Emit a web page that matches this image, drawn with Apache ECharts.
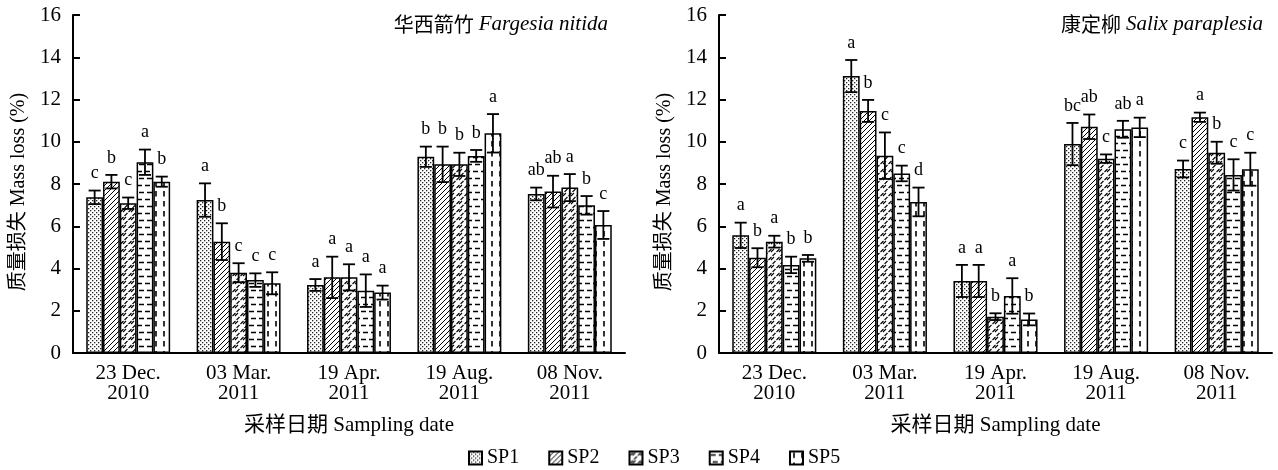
<!DOCTYPE html>
<html>
<head>
<meta charset="utf-8">
<script src="https://cdn.jsdelivr.net/npm/echarts@6/dist/echarts.min.js"></script>
<style>html,body{margin:0;padding:0;background:#fff}#c{width:1278px;height:470px}</style>
</head>
<body>
<div id="c"></div>
<script>
const categories = ['23 Dec.\n2010', '03 Mar.\n2011', '19 Apr.\n2011', '19 Aug.\n2011', '08 Nov.\n2011'];
const seriesNames = ['SP1', 'SP2', 'SP3', 'SP4', 'SP5'];
const yTicks = [0, 16, 2]; // min, max, interval

// Fargesia nitida (left)
const fargSP1 = [7.37, 7.24, 3.22, 9.29, 7.53];
const fargSP2 = [8.11, 5.27, 3.58, 8.93, 7.64];
const fargSP3 = [7.09, 3.80, 3.58, 8.93, 7.83];
const fargSP4 = [9.03, 3.45, 2.95, 9.33, 6.99];
const fargSP5 = [8.11, 3.30, 2.86, 10.40, 6.06];
const fargErr1 = [0.32, 0.79, 0.28, 0.48, 0.30];
const fargErr2 = [0.32, 0.87, 0.98, 0.84, 0.75];
const fargErr3 = [0.27, 0.45, 0.62, 0.55, 0.64];
const fargErr4 = [0.60, 0.32, 0.77, 0.28, 0.44];
const fargErr5 = [0.24, 0.52, 0.33, 0.91, 0.66];
const fargLet1 = ['c', 'a', 'a', 'b', 'ab'];
const fargLet2 = ['b', 'b', 'a', 'b', 'ab'];
const fargLet3 = ['c', 'c', 'a', 'b', 'a'];
const fargLet4 = ['a', 'c', 'a', 'b', 'b'];
const fargLet5 = ['b', 'c', 'a', 'a', 'c'];

// Salix paraplesia (right)
const salixSP1 = [5.57, 13.11, 3.41, 9.89, 8.71];
const salixSP2 = [4.51, 11.46, 3.41, 10.71, 11.16];
const salixSP3 = [5.27, 9.34, 1.72, 9.20, 9.48];
const salixSP4 = [4.17, 8.50, 2.70, 10.59, 8.43];
const salixSP5 = [4.48, 7.15, 1.59, 10.68, 8.70];
const salixErr1 = [0.60, 0.76, 0.76, 1.00, 0.40];
const salixErr2 = [0.45, 0.52, 0.76, 0.58, 0.22];
const salixErr3 = [0.28, 1.10, 0.16, 0.20, 0.52];
const salixErr4 = [0.39, 0.37, 0.84, 0.40, 0.74];
const salixErr5 = [0.16, 0.68, 0.28, 0.46, 0.78];
const salixLet1 = ['a', 'a', 'a', 'bc', 'c'];
const salixLet2 = ['b', 'b', 'a', 'ab', 'a'];
const salixLet3 = ['a', 'c', 'b', 'c', 'b'];
const salixLet4 = ['b', 'c', 'a', 'ab', 'c'];
const salixLet5 = ['b', 'd', 'b', 'a', 'c'];

const SERIF = '"Liberation Serif", "Times New Roman", "Noto Sans CJK SC", serif';

function makeTile(w, h, draw) {
  const c = document.createElement('canvas');
  c.width = w; c.height = h;
  const g = c.getContext('2d');
  g.fillStyle = '#fff'; g.fillRect(0, 0, w, h);
  g.strokeStyle = '#000'; g.fillStyle = '#000';
  draw(g);
  return { image: c, repeat: 'repeat' };
}
const patterns = [
  makeTile(4, 4, g => { g.fillStyle = '#222'; g.fillRect(0, 0, 1.3, 1.3); g.fillRect(2, 2, 1.3, 1.3); }),
  makeTile(5, 5, g => { g.lineWidth = 1; g.beginPath(); g.moveTo(-1, 6); g.lineTo(6, -1); g.moveTo(-1, 1); g.lineTo(1, -1); g.moveTo(4, 6); g.lineTo(6, 4); g.stroke(); }),
  makeTile(8, 8, g => { g.lineWidth = 1.1; g.beginPath(); g.moveTo(0.5, 4); g.lineTo(3.5, 1); g.moveTo(3, 4); g.lineTo(6, 1); g.moveTo(4.5, 8); g.lineTo(7.5, 5); g.stroke(); }),
  makeTile(8, 14, g => { g.lineWidth = 1.6; g.beginPath(); g.moveTo(1, 3.5); g.lineTo(6, 3.5); g.moveTo(3, 10.5); g.lineTo(8, 10.5); g.stroke(); }),
  makeTile(8, 10, g => { g.lineWidth = 1.6; g.beginPath(); g.moveTo(4, 1); g.lineTo(4, 6.5); g.stroke(); })
];

const fargMeans = [fargSP1, fargSP2, fargSP3, fargSP4, fargSP5];
const fargErrs = [fargErr1, fargErr2, fargErr3, fargErr4, fargErr5];
const fargLets = [fargLet1, fargLet2, fargLet3, fargLet4, fargLet5];
const salixMeans = [salixSP1, salixSP2, salixSP3, salixSP4, salixSP5];
const salixErrs = [salixErr1, salixErr2, salixErr3, salixErr4, salixErr5];
const salixLets = [salixLet1, salixLet2, salixLet3, salixLet4, salixLet5];

const CAT_GAP = 0.24;

function errData(means, errs) {
  const d = [];
  for (let s = 0; s < means.length; s++)
    for (let c = 0; c < categories.length; c++) d.push([c, s, means[s][c], errs[s][c]]);
  return d;
}
function errLetters(lets) {
  const d = [];
  for (let s = 0; s < lets.length; s++)
    for (let c = 0; c < categories.length; c++) d.push(lets[s][c]);
  return d;
}
function makeRender(letters) {
  return function (params, api) {
    const cat = api.value(0), si = api.value(1), mean = api.value(2), err = api.value(3);
    const band = api.size([1, 0])[0];
    const total = band * (1 - CAT_GAP);
    const bw = total / 5;
    const c = api.coord([cat, mean]);
    const x = c[0] - total / 2 + bw * (si + 0.5);
    const yTop = api.coord([cat, mean + err])[1];
    const yBot = api.coord([cat, mean - err])[1];
    const cap = bw * 0.72;
    const st = { stroke: '#000', lineWidth: 1.8 };
    return {
      type: 'group', children: [
        { type: 'line', shape: { x1: x, y1: yTop, x2: x, y2: yBot }, style: st },
        { type: 'line', shape: { x1: x - cap / 2, y1: yTop, x2: x + cap / 2, y2: yTop }, style: st },
        { type: 'line', shape: { x1: x - cap / 2, y1: yBot, x2: x + cap / 2, y2: yBot }, style: st },
        { type: 'text', style: { text: letters[params.dataIndex], x: x, y: yTop - 8, align: 'center', verticalAlign: 'bottom', font: '18px ' + SERIF, fill: '#000' } }
      ]
    };
  };
}

const grids = [
  { left: 73, right: 653, top: 15, bottom: 117 },
  { left: 719, right: 6, top: 15, bottom: 117 }
];
function xAx(i) {
  return {
    type: 'category', gridIndex: i, data: categories,
    name: '采样日期 Sampling date', nameLocation: 'middle', nameGap: 62,
    nameTextStyle: { fontFamily: SERIF, fontSize: 21, color: '#000' },
    axisLine: { lineStyle: { color: '#000', width: 2 } },
    axisTick: { inside: true, length: 7, lineStyle: { color: '#000', width: 2 } },
    axisLabel: { fontFamily: SERIF, fontSize: 21, color: '#000', lineHeight: 20, margin: 10, interval: 0 }
  };
}
function yAx(i) {
  return {
    type: 'value', gridIndex: i, min: yTicks[0], max: yTicks[1], interval: yTicks[2],
    name: '质量损失 Mass loss (%)', nameLocation: 'middle', nameGap: 44, nameRotate: 90,
    nameTextStyle: { fontFamily: SERIF, fontSize: 20, color: '#000', padding: [0, 16, 0, 0] },
    axisLine: { show: true, lineStyle: { color: '#000', width: 2 } },
    axisTick: { show: true, inside: true, length: 7, lineStyle: { color: '#000', width: 2 } },
    axisLabel: { fontFamily: SERIF, fontSize: 21, color: '#000', margin: 12 },
    splitLine: { show: false }
  };
}

const series = [];
[fargMeans, salixMeans].forEach((means, gi) => {
  means.forEach((vals, si) => {
    series.push({
      type: 'bar', name: seriesNames[si], xAxisIndex: gi, yAxisIndex: gi, data: vals,
      barGap: '0%', barCategoryGap: (CAT_GAP * 100) + '%',
      itemStyle: { color: patterns[si], borderColor: '#000', borderWidth: 1.5 },
      emphasis: { disabled: true }
    });
  });
});
series.push({ type: 'custom', name: 'errF', xAxisIndex: 0, yAxisIndex: 0, data: errData(fargMeans, fargErrs), renderItem: makeRender(errLetters(fargLets)), z: 5, silent: true });
series.push({ type: 'custom', name: 'errS', xAxisIndex: 1, yAxisIndex: 1, data: errData(salixMeans, salixErrs), renderItem: makeRender(errLetters(salixLets)), z: 5, silent: true });

const titleRich = {
  cn: { fontFamily: '"Noto Sans CJK SC", sans-serif', fontSize: 20, fontWeight: 'normal', color: '#000' },
  it: { fontFamily: SERIF, fontStyle: 'italic', fontWeight: 'normal', fontSize: 21, color: '#000' }
};

const chart = echarts.init(document.getElementById('c'), null, { renderer: 'canvas' });
chart.setOption({
  animation: false,
  backgroundColor: '#fff',
  title: [
    { text: '{cn|华西箭竹} {it|Fargesia nitida}', right: 670, top: 14, padding: 0, textStyle: { fontWeight: 'normal', rich: titleRich } },
    { text: '{cn|康定柳} {it|Salix paraplesia}', right: 15, top: 14, padding: 0, textStyle: { fontWeight: 'normal', rich: titleRich } }
  ],
  legend: {
    data: seriesNames, bottom: 2, left: 468, itemWidth: 13, itemHeight: 13, itemGap: 29,
    icon: 'rect', padding: 0,
    textStyle: { fontFamily: SERIF, fontSize: 20, color: '#000' }
  },
  grid: grids,
  xAxis: [xAx(0), xAx(1)],
  yAxis: [yAx(0), yAx(1)],
  series: series
});
</script>
</body>
</html>
